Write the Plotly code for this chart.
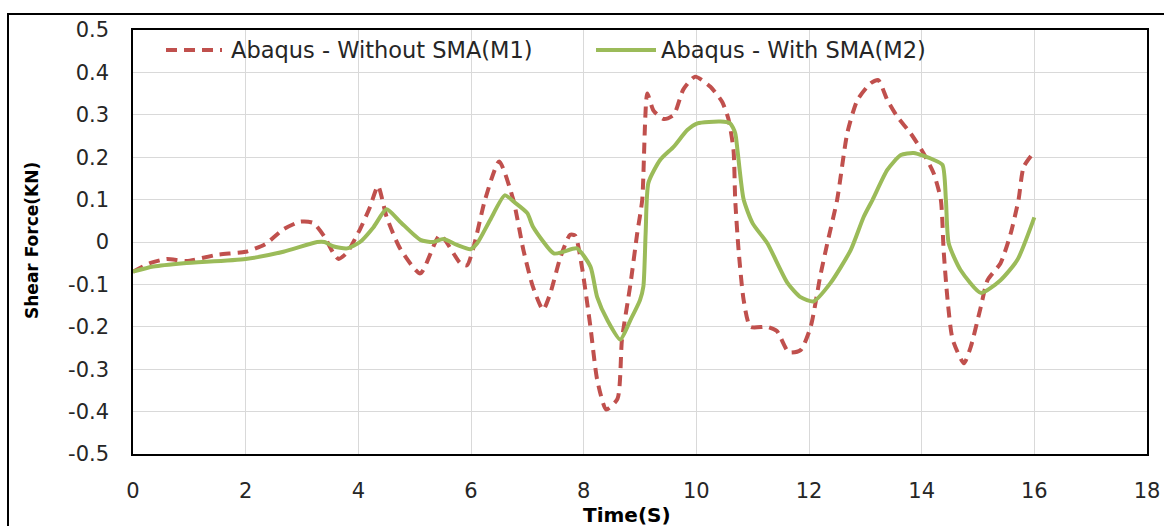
import plotly.graph_objects as go

# Time (s) and shear force (kN) for the two Abaqus models
time_m1 = [0, 0.3, 0.6, 0.95, 1.5, 2.0, 2.35, 2.67, 2.97, 3.2, 3.4, 3.56, 3.65, 3.8,
           4.03, 4.2, 4.35, 4.5, 4.74, 5.1, 5.45, 5.81, 5.93, 6.05, 6.25, 6.5, 6.75,
           6.93, 7.1, 7.28, 7.41, 7.59, 7.76, 7.85, 7.97, 8.12, 8.24, 8.4, 8.6, 8.68,
           8.83, 8.95, 9.04, 9.13, 9.24, 9.42, 9.6, 9.77, 9.98, 10.25, 10.46, 10.57,
           10.66, 10.69, 10.75, 10.84, 10.96, 11.26, 11.43, 11.64, 11.85, 12.03, 12.2,
           12.33, 12.5, 12.68, 12.86, 13.1, 13.23, 13.39, 13.57, 13.8, 14.03, 14.21,
           14.34, 14.39, 14.46, 14.55, 14.75, 14.87, 15.05, 15.17, 15.4, 15.58, 15.72,
           15.81, 16.0]
shear_m1 = [-0.07, -0.05, -0.04, -0.045, -0.03, -0.023, -0.005, 0.03, 0.048, 0.045,
            0.012, -0.027, -0.04, -0.025, 0.03, 0.08, 0.132, 0.06, -0.015, -0.074,
            0.016, -0.05, -0.055, -0.01, 0.1, 0.19, 0.1, -0.019, -0.106, -0.16, -0.12,
            -0.035, 0.017, 0.015, -0.06, -0.2, -0.325, -0.395, -0.37, -0.23, -0.1,
            0.02, 0.1, 0.35, 0.31, 0.29, 0.30, 0.36, 0.39, 0.366, 0.33, 0.29, 0.217,
            0.1, -0.019, -0.137, -0.2, -0.2, -0.21, -0.26, -0.255, -0.2, -0.08, 0.0,
            0.1, 0.257, 0.335, 0.375, 0.382, 0.335, 0.295, 0.257, 0.21, 0.163, 0.1,
            -0.02, -0.137, -0.23, -0.286, -0.248, -0.153, -0.09, -0.05, 0.02, 0.1,
            0.177, 0.213]

time_m2 = [0, 0.36, 0.9, 2.0, 2.67, 3.27, 3.4, 3.55, 3.8, 4.03, 4.27, 4.5, 4.74, 5.1,
           5.33, 5.51, 5.75, 5.99, 6.11, 6.34, 6.6, 6.76, 7.0, 7.1, 7.47, 7.64, 7.88,
           8.12, 8.24, 8.42, 8.65, 8.83, 9.0, 9.06, 9.1, 9.15, 9.36, 9.6, 9.84, 10.02,
           10.43, 10.6, 10.69, 10.73, 10.84, 11.0, 11.26, 11.62, 11.85, 12.08, 12.38,
           12.74, 12.97, 13.13, 13.39, 13.63, 13.86, 14.21, 14.37, 14.43, 14.48, 14.69,
           15.05, 15.4, 15.7, 16.0]
shear_m2 = [-0.07, -0.058, -0.05, -0.04, -0.023, 0.0, 0.0, -0.01, -0.015, 0.0, 0.035,
            0.077, 0.048, 0.005, 0.0, 0.007, -0.007, -0.017, -0.003, 0.052, 0.11,
            0.095, 0.068, 0.036, -0.027, -0.023, -0.015, -0.058, -0.13, -0.184, -0.23,
            -0.184, -0.137, -0.105, 0.02, 0.14, 0.194, 0.225, 0.264, 0.28, 0.284, 0.28,
            0.257, 0.217, 0.1, 0.044, -0.003, -0.097, -0.13, -0.14, -0.097, -0.019,
            0.059, 0.1, 0.17, 0.205, 0.21, 0.194, 0.182, 0.1, -0.003, -0.066, -0.12,
            -0.09, -0.042, 0.058]

series_names = ["Abaqus - Without SMA(M1)", "Abaqus - With SMA(M2)"]
x_ticks = [0, 2, 4, 6, 8, 10, 12, 14, 16, 18]
y_ticks = [-0.5, -0.4, -0.3, -0.2, -0.1, 0, 0.1, 0.2, 0.3, 0.4, 0.5]
y_tick_text = ["-0.5", "-0.4", "-0.3", "-0.2", "-0.1", "0", "0.1", "0.2", "0.3", "0.4", "0.5"]

RED = "#c0504d"
GREEN = "#9bbb59"
FONT = "DejaVu Sans"

fig = go.Figure()
fig.add_trace(go.Scatter(x=time_m1, y=shear_m1, mode="lines", name=series_names[0],
                         line=dict(color=RED, width=4, dash="11px,7px",
                                   shape="spline", smoothing=0.6),
                         showlegend=False))
fig.add_trace(go.Scatter(x=time_m2, y=shear_m2, mode="lines", name=series_names[1],
                         line=dict(color=GREEN, width=4, shape="spline", smoothing=0.6),
                         showlegend=False))

W, H = 1164, 526
L, R, T, B = 133, 17, 30, 72
pw, ph = W - L - R, H - T - B


def px(x):
    return (x - L) / pw


def py(y):
    return (H - B - y) / ph


shapes = [
    # outer chart frame
    dict(type="rect", xref="paper", yref="paper", x0=px(8), x1=px(1175),
         y0=py(540), y1=py(14), line=dict(color="#000000", width=2), layer="above"),
    # legend keys
    dict(type="line", xref="paper", yref="paper", x0=px(166), x1=px(222),
         y0=py(50), y1=py(50), line=dict(color=RED, width=4, dash="11px,7px")),
    dict(type="line", xref="paper", yref="paper", x0=px(596), x1=px(656),
         y0=py(50), y1=py(50), line=dict(color=GREEN, width=4)),
]

annotations = [
    dict(text=series_names[0], xref="paper", yref="paper", x=px(229), y=py(50),
         xanchor="left", yanchor="middle", showarrow=False,
         font=dict(family=FONT, size=22.5, color="#262626")),
    dict(text=series_names[1], xref="paper", yref="paper", x=px(659), y=py(50),
         xanchor="left", yanchor="middle", showarrow=False,
         font=dict(family=FONT, size=22.5, color="#262626")),
    dict(text="<b>Time(S)</b>", xref="paper", yref="paper", x=px(627), y=py(515),
         xanchor="center", yanchor="middle", showarrow=False,
         font=dict(family=FONT, size=20, color="#000000")),
    dict(text="<b>Shear Force(KN)</b>", xref="paper", yref="paper", x=px(32), y=py(241),
         xanchor="center", yanchor="middle", showarrow=False, textangle=-90,
         font=dict(family=FONT, size=17, color="#000000")),
]

fig.update_layout(
    width=W, height=H,
    margin=dict(l=L, r=R, t=T, b=B, autoexpand=False),
    paper_bgcolor="white", plot_bgcolor="white",
    font=dict(family=FONT, size=20, color="#262626"),
    shapes=shapes, annotations=annotations,
    showlegend=False,
)
fig.update_xaxes(range=[0, 18], tickvals=x_ticks, ticks="", ticklabelstandoff=17,
                 automargin=False,
                 showgrid=True, gridcolor="#d9d9d9", gridwidth=1.2, zeroline=False,
                 showline=True, linecolor="#000000", linewidth=1.5, mirror=True,
                 tickfont=dict(family=FONT, size=21, color="#262626"))
fig.update_yaxes(range=[-0.5, 0.5], tickvals=y_ticks, ticktext=y_tick_text, ticks="",
                 automargin=False,
                 ticklabelstandoff=18, showgrid=True, gridcolor="#d9d9d9", gridwidth=1.2,
                 zeroline=False, showline=True, linecolor="#000000", linewidth=1.5,
                 mirror=True, tickfont=dict(family=FONT, size=21, color="#262626"))

fig.write_html("out.html")
